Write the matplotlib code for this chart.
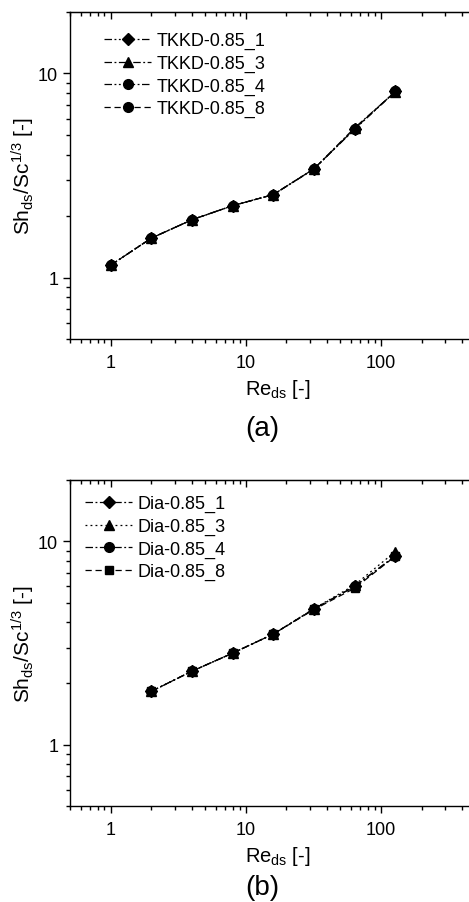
import matplotlib
matplotlib.use("Agg")
import matplotlib.pyplot as plt
from matplotlib.ticker import LogLocator, FixedLocator, FixedFormatter, NullFormatter

plt.rcParams['font.family'] = ['Liberation Sans', 'DejaVu Sans']
plt.rcParams['mathtext.fontset'] = 'custom'
plt.rcParams['mathtext.rm'] = 'Liberation Sans'
plt.rcParams['mathtext.it'] = 'Liberation Sans:italic'

# Re_ds values (both panels)
re_a = [1, 2, 4, 8, 16, 32, 64, 128]
re_b = [2, 4, 8, 16, 32, 64, 128]

# panel (a): TKKD-0.85 spacers
tkkd_1 = [1.15, 1.56, 1.92, 2.25, 2.55, 3.41, 5.33, 8.16]
tkkd_3 = [1.15, 1.56, 1.92, 2.25, 2.55, 3.41, 5.42, 8.14]
tkkd_4 = [1.15, 1.56, 1.92, 2.25, 2.55, 3.40, 5.36, 8.16]
tkkd_8 = [1.15, 1.56, 1.92, 2.25, 2.55, 3.41, 5.36, 8.16]

# panel (b): Dia-0.85 spacers
dia_1 = [1.83, 2.30, 2.82, 3.50, 4.65, 6.0, 8.5]
dia_3 = [1.83, 2.30, 2.82, 3.50, 4.67, 6.1, 8.9]
dia_4 = [1.83, 2.30, 2.82, 3.50, 4.65, 6.0, 8.45]
dia_8 = [1.83, 2.30, 2.82, 3.50, 4.62, 5.88, 8.45]

labels_a = ['TKKD-0.85_1', 'TKKD-0.85_3', 'TKKD-0.85_4', 'TKKD-0.85_8']
labels_b = ['Dia-0.85_1', 'Dia-0.85_3', 'Dia-0.85_4', 'Dia-0.85_8']

dashdotdot = (0, (6, 2, 1.5, 2, 1.5, 2))
dashdot = (0, (6, 2, 1.5, 2))
dotted = (0, (1.5, 2.5))
dashed = (0, (5, 3))

fig = plt.figure(figsize=(4.69, 9.03), dpi=100)
ax1 = fig.add_axes([70/469, 1-340/903, 416/469, 327/903])
ax2 = fig.add_axes([70/469, 1-807/903, 416/469, 326/903])


def style(ax):
	ax.set_xscale('log')
	ax.set_yscale('log')
	ax.set_xlim(0.5, 600)
	ax.set_ylim(0.5, 20)
	ax.xaxis.set_major_locator(FixedLocator([1, 10, 100]))
	ax.xaxis.set_major_formatter(FixedFormatter(['1', '10', '100']))
	ax.xaxis.set_minor_locator(LogLocator(base=10, subs=range(2, 10), numticks=20))
	ax.xaxis.set_minor_formatter(NullFormatter())
	ax.yaxis.set_major_locator(FixedLocator([1, 10]))
	ax.yaxis.set_major_formatter(FixedFormatter(['1', '10']))
	ax.yaxis.set_minor_locator(LogLocator(base=10, subs=range(2, 10), numticks=20))
	ax.yaxis.set_minor_formatter(NullFormatter())
	ax.tick_params(which='both', direction='out', top=False, right=False, labelsize=13, width=1)
	ax.tick_params(which='major', length=5)
	ax.tick_params(which='minor', length=3)
	ax.tick_params(axis='x', pad=6)
	for s in ax.spines.values():
		s.set_linewidth(1)
	ax.set_xlabel(r'Re$_{\mathrm{ds}}$ [-]', fontsize=14.5, labelpad=4)
	ax.set_ylabel(r'Sh$_{\mathrm{ds}}$/Sc$^{1/3}$ [-]', fontsize=15, labelpad=1)
	# inward ticks on the top spine
	top = ax.secondary_xaxis('top')
	top.set_xscale('log')
	top.xaxis.set_major_locator(FixedLocator([1, 10, 100]))
	top.xaxis.set_minor_locator(LogLocator(base=10, subs=range(2, 10), numticks=20))
	top.tick_params(which='both', direction='in', labeltop=False, width=1)
	top.tick_params(which='major', length=5)
	top.tick_params(which='minor', length=3)
	top.xaxis.set_major_formatter(NullFormatter())
	top.xaxis.set_minor_formatter(NullFormatter())


style(ax1)
style(ax2)

kw = dict(color='black', lw=0.9, ms=7)
ax1.plot(re_a, tkkd_1, linestyle=dashdotdot, marker='D', ms=6, color='black', lw=0.9, label=labels_a[0])
ax1.plot(re_a, tkkd_3, linestyle=dashdot, marker='^', label=labels_a[1], **kw)
ax1.plot(re_a, tkkd_4, linestyle=dashdotdot, marker='o', label=labels_a[2], **kw)
ax1.plot(re_a, tkkd_8, linestyle=dashed, marker='o', label=labels_a[3], **kw)

ax2.plot(re_b, dia_1, linestyle=dashdot, marker='D', ms=6, color='black', lw=0.9, label=labels_b[0])
ax2.plot(re_b, dia_3, linestyle=dotted, marker='^', label=labels_b[1], **kw)
ax2.plot(re_b, dia_4, linestyle=dashdot, marker='o', label=labels_b[2], **kw)
ax2.plot(re_b, dia_8, linestyle=dashed, marker='s', ms=6, color='black', lw=0.9, label=labels_b[3])

leg_kw = dict(frameon=False, fontsize=13, handlelength=2.6, handletextpad=0.3,
	labelspacing=0.3, borderaxespad=0, loc='upper left')
ax1.legend(bbox_to_anchor=((97-70)/416, (340-26)/327), **leg_kw)
ax2.legend(bbox_to_anchor=((78-70)/416, (807-489)/326), **leg_kw)

fig.text(262/469, 1-429/903, '(a)', ha='center', va='center', fontsize=20)
fig.text(262/469, 1-888/903, '(b)', ha='center', va='center', fontsize=20)

fig.savefig('out.png', dpi=100)
